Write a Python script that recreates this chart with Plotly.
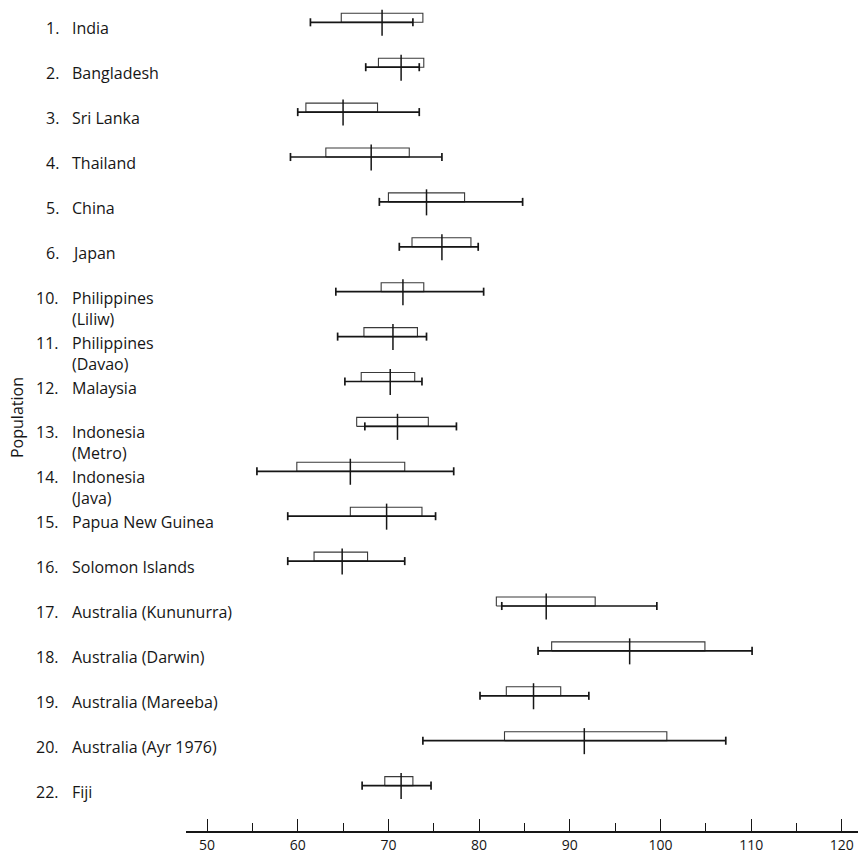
import plotly.graph_objects as go

# Population labels (number + name)
pop_ids = ["1.", "2.", "3.", "4.", "5.", "6.", "10.", "11.", "12.", "13.",
           "14.", "15.", "16.", "17.", "18.", "19.", "20.", "22."]
pop_names = ["India", "Bangladesh", "Sri Lanka", "Thailand", "China", "Japan",
             "Philippines<br>(Liliw)", "Philippines<br>(Davao)", "Malaysia",
             "Indonesia<br>(Metro)", "Indonesia<br>(Java)", "Papua New Guinea",
             "Solomon Islands", "Australia (Kununurra)", "Australia (Darwin)",
             "Australia (Mareeba)", "Australia (Ayr 1976)", "Fiji"]

# Range (whiskers), box limits and mean for each population
range_low = [61.4, 67.5, 60.0, 59.2, 69.0, 71.2, 64.2, 64.4, 65.2, 67.4,
             55.5, 58.9, 58.9, 82.5, 86.5, 80.1, 73.8, 67.1]
range_high = [72.7, 73.4, 73.4, 75.9, 84.8, 79.9, 80.5, 74.2, 73.7, 77.5,
              77.2, 75.2, 71.8, 99.6, 110.1, 92.1, 107.2, 74.7]
box_low = [64.8, 68.9, 60.9, 63.1, 70.0, 72.6, 69.2, 67.3, 67.0, 66.5,
           59.9, 65.8, 61.8, 81.9, 88.0, 83.0, 82.8, 69.6]
box_high = [73.8, 73.9, 68.8, 72.3, 78.4, 79.1, 73.9, 73.2, 72.9, 74.4,
            71.8, 73.7, 67.7, 92.8, 104.9, 89.0, 100.7, 72.7]
means = [69.3, 71.4, 65.0, 68.1, 74.2, 75.9, 71.6, 70.5, 70.2, 71.0,
         65.8, 69.8, 64.9, 87.4, 96.6, 86.0, 91.6, 71.4]

x_ticks = [50, 60, 70, 80, 90, 100, 110, 120]

FONT = "Open Sans"
INK = "#161616"

n = len(pop_ids)
rows = list(range(n))

# geometry (in row units)
BOX_H = 0.20
CAP = 0.09
MEAN_UP = 0.28
MEAN_DN = 0.30

# whiskers with end caps
wx, wy = [], []
for i, lo, hi in zip(rows, range_low, range_high):
    wx += [lo, hi, None, lo, lo, None, hi, hi, None]
    wy += [i, i, None, i - CAP, i + CAP, None, i - CAP, i + CAP, None]

# boxes sitting on the whisker line
bx, by = [], []
for i, lo, hi in zip(rows, box_low, box_high):
    bx += [lo, lo, hi, hi, lo, None]
    by += [i, i - BOX_H, i - BOX_H, i, i, None]

# mean ticks
mx, my = [], []
for i, m in zip(rows, means):
    mx += [m, m, None]
    my += [i - MEAN_UP, i + MEAN_DN, None]

fig = go.Figure()
fig.add_trace(go.Scatter(x=bx, y=by, mode="lines",
                         line=dict(color="#3a3a3a", width=1.1),
                         hoverinfo="skip", showlegend=False))
fig.add_trace(go.Scatter(x=wx, y=wy, mode="lines",
                         line=dict(color=INK, width=1.7),
                         hoverinfo="skip", showlegend=False))
fig.add_trace(go.Scatter(x=mx, y=my, mode="lines",
                         line=dict(color=INK, width=1.5),
                         hoverinfo="skip", showlegend=False))

W, H = 858, 853
ML, MR, MT, MB = 186, 0, 0, 22
PW, PH = W - ML - MR, H - MT - MB

def px_to_paper_x(px):
    return (px - ML) / PW

def px_to_paper_y(py):
    return 1 - (py - MT) / PH

ROW0_PX, ROW_STEP_PX = 22.3, 44.9
y_top = -ROW0_PX / ROW_STEP_PX
y_bot = (PH - ROW0_PX) / ROW_STEP_PX

annotations = []
for i, pid, name in zip(rows, pop_ids, pop_names):
    annotations.append(dict(
        x=px_to_paper_x(61), xref="paper", y=i, yref="y",
        text=pid, showarrow=False, xanchor="right", yanchor="top",
        yshift=7, font=dict(family=FONT, size=16, color=INK)))
    annotations.append(dict(
        x=px_to_paper_x(70), xref="paper", y=i, yref="y",
        text=name, showarrow=False, xanchor="left", yanchor="top", align="left",
        yshift=7, font=dict(family=FONT, size=16, color=INK)))

annotations.append(dict(
    x=px_to_paper_x(17), xref="paper", y=px_to_paper_y(418), yref="paper",
    text="Population", textangle=-90, showarrow=False,
    xanchor="center", yanchor="middle",
    font=dict(family=FONT, size=16, color=INK)))

fig.update_layout(
    width=W, height=H,
    margin=dict(l=ML, r=MR, t=MT, b=MB),
    paper_bgcolor="white", plot_bgcolor="white",
    annotations=annotations,
    xaxis=dict(
        range=[47.68, 121.78], tickvals=x_ticks,
        ticks="inside", ticklen=12, tickwidth=1.4, tickcolor=INK,
        minor=dict(dtick=5, tick0=0, ticks="inside", ticklen=8,
                   tickwidth=1.2, tickcolor=INK, showgrid=False),
        showline=True, linecolor=INK, linewidth=1.5,
        showgrid=False, zeroline=False, automargin=False,
        tickfont=dict(family=FONT, size=14, color=INK),
    ),
    yaxis=dict(
        range=[y_bot, y_top], visible=False, showgrid=False,
        zeroline=False, fixedrange=True,
    ),
    showlegend=False,
)

fig.write_html("out.html")
